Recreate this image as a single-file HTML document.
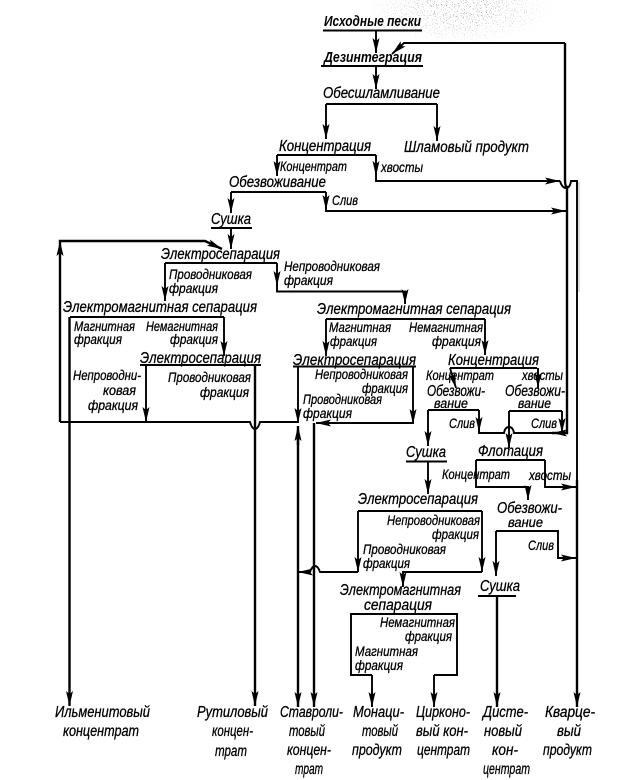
<!DOCTYPE html>
<html><head><meta charset="utf-8">
<style>
html,body{margin:0;padding:0;background:#fff}
svg{display:block}
text{font-family:"Liberation Sans","DejaVu Sans",sans-serif;font-style:italic;font-size:14px;fill:#000;stroke:#000;stroke-width:.3}
.m{font-size:16px}
.t{font-weight:bold;font-size:15px;stroke-width:0}
.l{fill:none;stroke:#000;stroke-width:1.9;stroke-linejoin:miter}
.b{stroke-width:2.4}
</style></head><body>
<svg width="638" height="780" viewBox="0 0 638 780" xmlns="http://www.w3.org/2000/svg">
<defs>
<marker id="a" markerUnits="userSpaceOnUse" markerWidth="16" markerHeight="9" refX="15" refY="4.5" orient="auto"><path d="M0 1L15 4.5L0 8L3 4.5Z" fill="#000"/></marker>
<filter id="n" x="0" y="0" width="100%" height="100%"><feTurbulence type="fractalNoise" baseFrequency=".9" numOctaves="2" seed="4"/><feColorMatrix values="0 0 0 0 0 0 0 0 0 0 0 0 0 0 0 0 0 0 9 -5.6"/><feComposite in2="SourceGraphic" operator="in"/></filter>
<radialGradient id="g"><stop offset="0" stop-color="#000" stop-opacity="1"/><stop offset=".5" stop-color="#000" stop-opacity=".5"/><stop offset="1" stop-color="#000" stop-opacity="0"/></radialGradient>
</defs>
<g filter="url(#n)" opacity=".6"><ellipse cx="460" cy="10" rx="95" ry="34" fill="url(#g)"/></g>
<rect x="578" y="182" width="2" height="110" fill="#bbb" opacity=".5"/>

<!-- connectors -->
<g>
<path class="l" d="M376 30V53" marker-end="url(#a)"/>
<path class="l" d="M376 66V89" marker-end="url(#a)"/>
<path class="l" d="M565 43H404L392 54" marker-end="url(#a)"/>
<path class="l b" d="M565 43V179Q565 187 567 187V433H552" marker-end="url(#a)"/>
<path class="l" d="M326 104H437"/>
<path class="l" d="M326 104V139" marker-end="url(#a)"/>
<path class="l" d="M437 104V141" marker-end="url(#a)"/>
<path class="l" d="M277 155H376"/>
<path class="l" d="M277 155V176" marker-end="url(#a)"/>
<path class="l" d="M376 155V176" marker-end="url(#a)"/>
<path class="l" d="M376 176V181H560" marker-end="url(#a)"/>
<path class="l" d="M560 181Q562 188 566 188T571 181H577V487"/>
<path class="l" d="M231 192H326"/>
<path class="l" d="M231 192V213" marker-end="url(#a)"/>
<path class="l" d="M326 192V210" marker-end="url(#a)"/>
<path class="l" d="M326 206V211H566" marker-end="url(#a)"/>
<path class="l" d="M231 228V249" marker-end="url(#a)"/>
<path class="l b" d="M60 422V241H205L222 249" marker-end="url(#a)"/>
<path class="l" d="M60 275V241" marker-end="url(#a)"/>
<path class="l" d="M165 263H277"/>
<path class="l" d="M165 263V301" marker-end="url(#a)"/>
<path class="l" d="M277 263V286" marker-end="url(#a)"/>
<path class="l" d="M277 284V291.5H405V304" marker-end="url(#a)"/>
<path class="l" d="M70 317H224"/>
<path class="l b" d="M69.5 317V706" marker-end="url(#a)"/>
<path class="l" d="M224 317V356" marker-end="url(#a)"/>
<path class="l" d="M146 365H254"/>
<path class="l" d="M146 365V422" marker-end="url(#a)"/>
<path class="l" d="M60 422H250Q252 429 255 429T260 422H298"/>
<path class="l b" d="M255 365V706" marker-end="url(#a)"/>
<path class="l" d="M326 319H485"/>
<path class="l" d="M326 319V356" marker-end="url(#a)"/>
<path class="l" d="M485 319V355" marker-end="url(#a)"/>
<path class="l" d="M293 366.5H416"/>
<path class="l" d="M298 367V423" marker-end="url(#a)"/>
<path class="l" d="M413 367V424" marker-end="url(#a)"/>
<path class="l" d="M413 423H316" marker-end="url(#a)"/>
<path class="l b" d="M314 423V707" marker-end="url(#a)"/>
<path class="l b" d="M298 445V426" marker-end="url(#a)"/>
<path class="l b" d="M298 430V707" marker-end="url(#a)"/>
<path class="l" d="M450 368H537"/>
<path class="l" d="M450 368L456 388" marker-end="url(#a)"/>
<path class="l" d="M538 368V388" marker-end="url(#a)"/>
<path class="l" d="M428 410H479"/>
<path class="l" d="M428 410V446" marker-end="url(#a)"/>
<path class="l" d="M479 410V432" marker-end="url(#a)"/>
<path class="l" d="M479 429V433H504Q505 427 509 427T514 433H552" />
<path class="l" d="M509 411H562"/>
<path class="l" d="M562 411V433" marker-end="url(#a)"/>
<path class="l" d="M509 411V448" marker-end="url(#a)"/>
<path class="l" d="M406 461.5H447"/>
<path class="l" d="M428 461V494" marker-end="url(#a)"/>
<path class="l" d="M476 460H545"/>
<path class="l" d="M476 460V487H528V500" marker-end="url(#a)"/>
<path class="l" d="M545 460V487H576" marker-end="url(#a)"/>
<path class="l b" d="M577 480V707" marker-end="url(#a)"/>
<path class="l" d="M358 511H482"/>
<path class="l" d="M358 511V572" marker-end="url(#a)"/>
<path class="l" d="M482 511V572" marker-end="url(#a)"/>
<path class="l" d="M358 572H320Q318 566 315 566T310 572H298" marker-end="url(#a)"/>
<path class="l" d="M482 572H403V587" marker-end="url(#a)"/>
<path class="l" d="M496 531H558V558H576" marker-end="url(#a)"/>
<path class="l" d="M496 531V576" marker-end="url(#a)"/>
<path class="l" d="M478 596H516"/>
<path class="l b" d="M497 596V707" marker-end="url(#a)"/>
<path class="l" d="M372 675H351V614H457V675H434"/>
<path class="l" d="M372 675V707" marker-end="url(#a)"/>
<path class="l" d="M434 675V707" marker-end="url(#a)"/>
<path class="l" d="M323 30.5H422"/>
<path class="l" d="M321 66H423"/>
<path class="l" d="M211 228H252"/>
<path class="l" d="M140 365H261"/>
</g>

<!-- labels -->
<g>
<text x="324" y="26" textLength="97" lengthAdjust="spacingAndGlyphs" class="t">Исходные пески</text>
<text x="324" y="62" textLength="98" lengthAdjust="spacingAndGlyphs" class="t">Дезинтеграция</text>
<text x="323" y="98" textLength="117" lengthAdjust="spacingAndGlyphs" class="m">Обесшламливание</text>
<text x="279" y="151" textLength="92" lengthAdjust="spacingAndGlyphs" class="m">Концентрация</text>
<text x="404" y="152" textLength="125" lengthAdjust="spacingAndGlyphs" class="m">Шламовый продукт</text>
<text x="280" y="171" textLength="67" lengthAdjust="spacingAndGlyphs">Концентрат</text>
<text x="381" y="172" textLength="42" lengthAdjust="spacingAndGlyphs">хвосты</text>
<text x="229" y="187" textLength="97" lengthAdjust="spacingAndGlyphs" class="m">Обезвоживание</text>
<text x="332" y="205" textLength="26" lengthAdjust="spacingAndGlyphs">Слив</text>
<text x="211" y="224" textLength="40" lengthAdjust="spacingAndGlyphs" class="m">Сушка</text>
<text x="161" y="259" textLength="119" lengthAdjust="spacingAndGlyphs" class="m">Электросепарация</text>
<text x="169" y="279" textLength="83" lengthAdjust="spacingAndGlyphs">Проводниковая</text>
<text x="169" y="293" textLength="49" lengthAdjust="spacingAndGlyphs">фракция</text>
<text x="284" y="271" textLength="96" lengthAdjust="spacingAndGlyphs">Непроводниковая</text>
<text x="284" y="285" textLength="49" lengthAdjust="spacingAndGlyphs">фракция</text>
<text x="63" y="312" textLength="194" lengthAdjust="spacingAndGlyphs" class="m">Электромагнитная сепарация</text>
<text x="317" y="314" textLength="194" lengthAdjust="spacingAndGlyphs" class="m">Электромагнитная сепарация</text>
<text x="74" y="331" textLength="61" lengthAdjust="spacingAndGlyphs">Магнитная</text>
<text x="74" y="344" textLength="48" lengthAdjust="spacingAndGlyphs">фракция</text>
<text x="146" y="331" textLength="72" lengthAdjust="spacingAndGlyphs">Немагнитная</text>
<text x="170" y="344" textLength="48" lengthAdjust="spacingAndGlyphs">фракция</text>
<text x="140" y="363" textLength="121" lengthAdjust="spacingAndGlyphs" class="m">Электросепарация</text>
<text x="73" y="380" textLength="68" lengthAdjust="spacingAndGlyphs">Непроводни-</text>
<text x="103" y="395" textLength="33" lengthAdjust="spacingAndGlyphs">ковая</text>
<text x="88" y="410" textLength="50" lengthAdjust="spacingAndGlyphs">фракция</text>
<text x="168" y="382" textLength="83" lengthAdjust="spacingAndGlyphs">Проводниковая</text>
<text x="200" y="397" textLength="49" lengthAdjust="spacingAndGlyphs">фракция</text>
<text x="329" y="332" textLength="62" lengthAdjust="spacingAndGlyphs">Магнитная</text>
<text x="330" y="346" textLength="47" lengthAdjust="spacingAndGlyphs">фракция</text>
<text x="409" y="332" textLength="74" lengthAdjust="spacingAndGlyphs">Немагнитная</text>
<text x="432" y="346" textLength="49" lengthAdjust="spacingAndGlyphs">фракция</text>
<text x="293" y="365" textLength="123" lengthAdjust="spacingAndGlyphs" class="m">Электросепарация</text>
<text x="448" y="365" textLength="91" lengthAdjust="spacingAndGlyphs" class="m">Концентрация</text>
<text x="315" y="379" textLength="93" lengthAdjust="spacingAndGlyphs">Непроводниковая</text>
<text x="362" y="393" textLength="46" lengthAdjust="spacingAndGlyphs">фракция</text>
<text x="303" y="404" textLength="79" lengthAdjust="spacingAndGlyphs">Проводниковая</text>
<text x="303" y="418" textLength="49" lengthAdjust="spacingAndGlyphs">фракция</text>
<text x="426" y="380" textLength="68" lengthAdjust="spacingAndGlyphs">Концентрат</text>
<text x="522" y="380" textLength="41" lengthAdjust="spacingAndGlyphs">хвосты</text>
<text x="427" y="396" textLength="58" lengthAdjust="spacingAndGlyphs" class="m">Обезвожи-</text>
<text x="434" y="408" textLength="34" lengthAdjust="spacingAndGlyphs">вание</text>
<text x="505" y="396" textLength="60" lengthAdjust="spacingAndGlyphs" class="m">Обезвожи-</text>
<text x="518" y="408" textLength="33" lengthAdjust="spacingAndGlyphs">вание</text>
<text x="449" y="428" textLength="26" lengthAdjust="spacingAndGlyphs">Слив</text>
<text x="531" y="428" textLength="26" lengthAdjust="spacingAndGlyphs">Слив</text>
<text x="406" y="457" textLength="40" lengthAdjust="spacingAndGlyphs" class="m">Сушка</text>
<text x="478" y="456" textLength="65" lengthAdjust="spacingAndGlyphs" class="m">Флотация</text>
<text x="442" y="479" textLength="68" lengthAdjust="spacingAndGlyphs">Концентрат</text>
<text x="529" y="480" textLength="42" lengthAdjust="spacingAndGlyphs">хвосты</text>
<text x="358" y="504" textLength="120" lengthAdjust="spacingAndGlyphs" class="m">Электросепарация</text>
<text x="497" y="513" textLength="65" lengthAdjust="spacingAndGlyphs" class="m">Обезвожи-</text>
<text x="508" y="527" textLength="35" lengthAdjust="spacingAndGlyphs">вание</text>
<text x="387" y="525" textLength="93" lengthAdjust="spacingAndGlyphs">Непроводниковая</text>
<text x="432" y="539" textLength="47" lengthAdjust="spacingAndGlyphs">фракция</text>
<text x="528" y="550" textLength="26" lengthAdjust="spacingAndGlyphs">Слив</text>
<text x="363" y="554" textLength="83" lengthAdjust="spacingAndGlyphs">Проводниковая</text>
<text x="363" y="568" textLength="47" lengthAdjust="spacingAndGlyphs">фракция</text>
<text x="480" y="591" textLength="40" lengthAdjust="spacingAndGlyphs" class="m">Сушка</text>
<text x="340" y="595" textLength="121" lengthAdjust="spacingAndGlyphs" class="m">Электромагнитная</text>
<text x="364" y="610" textLength="68" lengthAdjust="spacingAndGlyphs" class="m">сепарация</text>
<text x="380" y="627" textLength="75" lengthAdjust="spacingAndGlyphs">Немагнитная</text>
<text x="405" y="641" textLength="47" lengthAdjust="spacingAndGlyphs">фракция</text>
<text x="355" y="656" textLength="63" lengthAdjust="spacingAndGlyphs">Магнитная</text>
<text x="355" y="670" textLength="48" lengthAdjust="spacingAndGlyphs">фракция</text>
<text x="55" y="717" textLength="95" lengthAdjust="spacingAndGlyphs" class="m">Ильменитовый</text>
<text x="63" y="736" textLength="76" lengthAdjust="spacingAndGlyphs" class="m">концентрат</text>
<text x="197" y="717" textLength="71" lengthAdjust="spacingAndGlyphs" class="m">Рутиловый</text>
<text x="212" y="736" textLength="41" lengthAdjust="spacingAndGlyphs" class="m">концен-</text>
<text x="215" y="756" textLength="32" lengthAdjust="spacingAndGlyphs" class="m">трат</text>
<text x="280" y="717" textLength="63" lengthAdjust="spacingAndGlyphs" class="m">Ставроли-</text>
<text x="289" y="736" textLength="36" lengthAdjust="spacingAndGlyphs" class="m">товый</text>
<text x="287" y="755" textLength="44" lengthAdjust="spacingAndGlyphs" class="m">концен-</text>
<text x="295" y="774" textLength="28" lengthAdjust="spacingAndGlyphs" class="m">трат</text>
<text x="353" y="717" textLength="51" lengthAdjust="spacingAndGlyphs" class="m">Монаци-</text>
<text x="362" y="736" textLength="36" lengthAdjust="spacingAndGlyphs" class="m">товый</text>
<text x="352" y="755" textLength="50" lengthAdjust="spacingAndGlyphs" class="m">продукт</text>
<text x="416" y="717" textLength="54" lengthAdjust="spacingAndGlyphs" class="m">Цирконо-</text>
<text x="416" y="736" textLength="52" lengthAdjust="spacingAndGlyphs" class="m">вый кон-</text>
<text x="417" y="755" textLength="53" lengthAdjust="spacingAndGlyphs" class="m">центрат</text>
<text x="483" y="717" textLength="45" lengthAdjust="spacingAndGlyphs" class="m">Дисте-</text>
<text x="484" y="736" textLength="38" lengthAdjust="spacingAndGlyphs" class="m">новый</text>
<text x="492" y="755" textLength="26" lengthAdjust="spacingAndGlyphs" class="m">кон-</text>
<text x="483" y="774" textLength="47" lengthAdjust="spacingAndGlyphs" class="m">центрат</text>
<text x="545" y="717" textLength="50" lengthAdjust="spacingAndGlyphs" class="m">Кварце-</text>
<text x="557" y="736" textLength="24" lengthAdjust="spacingAndGlyphs" class="m">вый</text>
<text x="543" y="755" textLength="49" lengthAdjust="spacingAndGlyphs" class="m">продукт</text>
</g>
</svg>
</body></html>
